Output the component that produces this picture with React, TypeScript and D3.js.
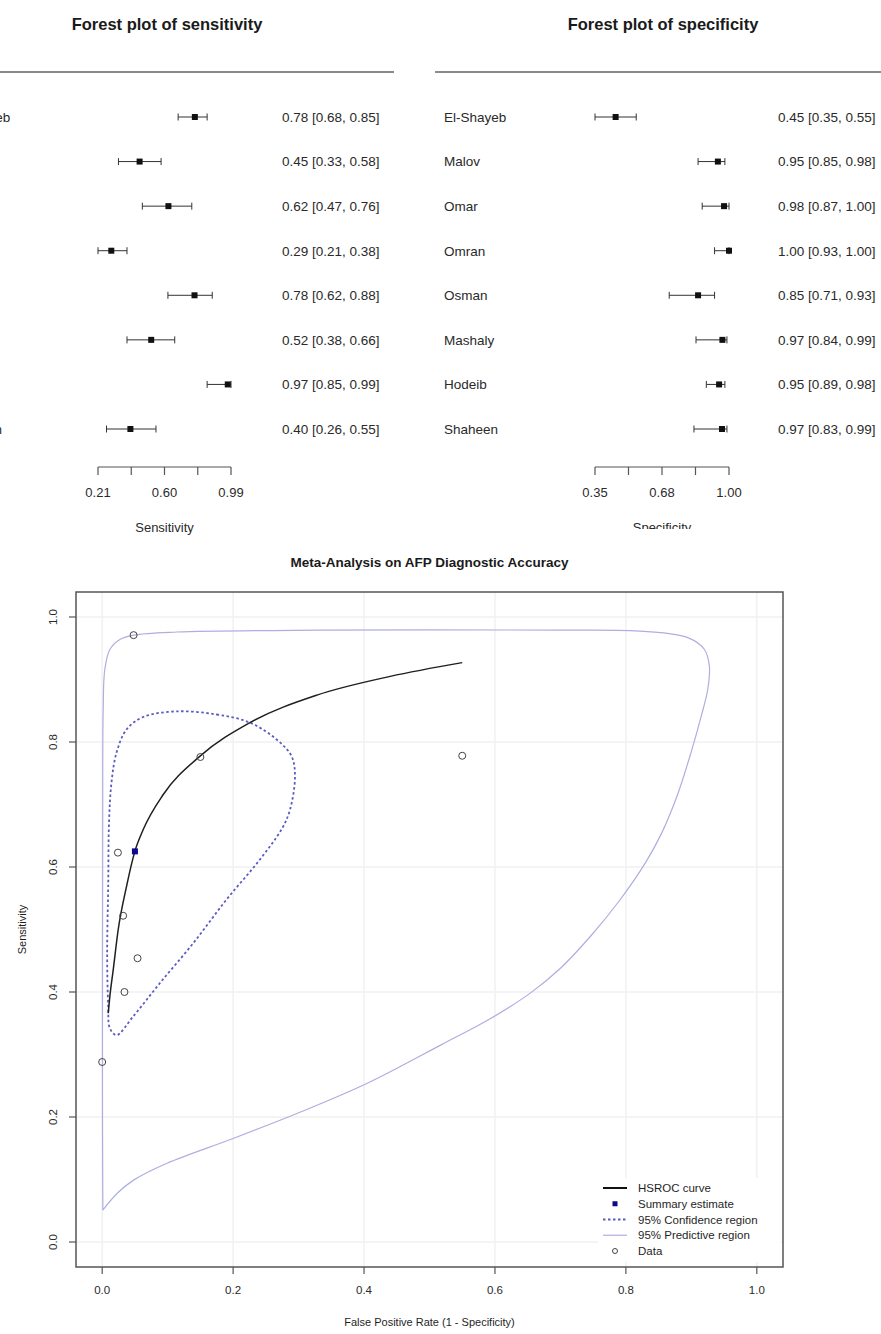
import React from "react";
import * as d3 from "d3";

// ---------- Data ----------
const studies = ["El-Shayeb", "Malov", "Omar", "Omran", "Osman", "Mashaly", "Hodeib", "Shaheen"];
const sensitivity = [0.778, 0.454, 0.623, 0.288, 0.776, 0.522, 0.971, 0.4];
const sensLower = [0.68, 0.33, 0.47, 0.21, 0.62, 0.38, 0.85, 0.26];
const sensUpper = [0.85, 0.58, 0.76, 0.38, 0.88, 0.66, 0.99, 0.55];
const specificity = [0.45, 0.946, 0.976, 1.0, 0.85, 0.968, 0.952, 0.966];
const specLower = [0.35, 0.85, 0.87, 0.93, 0.71, 0.84, 0.89, 0.83];
const specUpper = [0.55, 0.98, 1.0, 1.0, 0.93, 0.99, 0.98, 0.99];
const sensAxisDomain = [0.21, 0.99];
const specAxisDomain = [0.35, 1.0];
const sensTickLabels = ["0.21", "0.60", "0.99"];
const specTickLabels = ["0.35", "0.68", "1.00"];

const summaryEstimate = [0.05, 0.625]; // [FPR, sensitivity]
const hsrocCurve: [number, number][] = [
  [0.0092, 0.366], [0.0117, 0.393], [0.0168, 0.435], [0.0245, 0.5], [0.0372, 0.569],
  [0.0499, 0.625], [0.0627, 0.66], [0.0933, 0.716], [0.149, 0.777], [0.2257, 0.831],
  [0.328, 0.875], [0.44, 0.905], [0.55, 0.927],
];
const confidenceRegion: [number, number][] = [
  [0.1136, 0.849], [0.1748, 0.844], [0.2257, 0.831], [0.2665, 0.804], [0.2894, 0.777],
  [0.2945, 0.745], [0.287, 0.692], [0.275, 0.662], [0.241, 0.612], [0.19, 0.548],
  [0.139, 0.478], [0.088, 0.414], [0.0474, 0.361], [0.0219, 0.331], [0.0117, 0.342],
  [0.0092, 0.377], [0.0076, 0.462], [0.0092, 0.569], [0.0104, 0.67], [0.0142, 0.735],
  [0.0219, 0.783], [0.0372, 0.82], [0.0627, 0.84],
];
const predictiveRegion: [number, number][] = [
  [0.001, 0.051], [0.0005, 0.2], [0.0005, 0.45], [0.0008, 0.66], [0.0015, 0.85],
  [0.004, 0.916], [0.0117, 0.948], [0.027, 0.964], [0.048, 0.971], [0.114, 0.976],
  [0.33, 0.979], [0.7, 0.979], [0.828, 0.977], [0.8945, 0.967], [0.92, 0.948],
  [0.9275, 0.9215], [0.925, 0.884], [0.915, 0.841], [0.9, 0.785], [0.879, 0.716],
  [0.855, 0.655], [0.83, 0.607], [0.79, 0.546], [0.745, 0.488], [0.7, 0.438],
  [0.655, 0.399], [0.594, 0.358], [0.517, 0.315], [0.405, 0.254], [0.303, 0.208],
  [0.201, 0.166], [0.099, 0.126], [0.048, 0.099], [0.023, 0.078],
];
const sroTicks = [0, 0.2, 0.4, 0.6, 0.8, 1.0];
const legendItems = ["HSROC curve", "Summary estimate", "95% Confidence region", "95% Predictive region", "Data"];

const FONT = "'Liberation Sans', Arial, Helvetica, sans-serif";

type ForestProps = {
  title: string;
  axisTitle: string;
  values: number[];
  lower: number[];
  upper: number[];
  domain: number[];
  tickLabels: string[];
  axisRange: [number, number];
  ox: number;
  clipId?: string;
};

function Forest(p: ForestProps) {
  const x = d3.scaleLinear().domain(p.domain).range(p.axisRange);
  const row = d3.scaleLinear().domain([0, studies.length - 1]).range([117, 429]);
  const tickVals = d3.range(5).map((i) => p.domain[0] + (i * (p.domain[1] - p.domain[0])) / 4);
  const axisY = 467;
  const sq = 6;
  return (
    <g clipPath={p.clipId ? `url(#${p.clipId})` : undefined} fontFamily={FONT}>
      <text x={p.ox + 663} y={30} textAnchor="middle" fontSize={16.5} fontWeight="bold" fill="#1a1a1a">
        {p.title}
      </text>
      <line x1={p.ox + 435} x2={p.ox + 890} y1={72} y2={72} stroke="#8a8a8a" strokeWidth={2} />
      {studies.map((s, i) => {
        const y = row(i);
        const est = `${p.values[i].toFixed(2)} [${p.lower[i].toFixed(2)}, ${p.upper[i].toFixed(2)}]`;
        return (
          <g key={s}>
            <text x={p.ox + 444} y={y} dy="0.36em" fontSize={13.5} fill="#2a2a2a">{s}</text>
            <line x1={x(p.lower[i])} x2={x(p.upper[i])} y1={y} y2={y} stroke="#333" strokeWidth={1} />
            <line x1={x(p.lower[i])} x2={x(p.lower[i])} y1={y - 3.5} y2={y + 3.5} stroke="#333" strokeWidth={1} />
            <line x1={x(p.upper[i])} x2={x(p.upper[i])} y1={y - 3.5} y2={y + 3.5} stroke="#333" strokeWidth={1} />
            <rect x={x(p.values[i]) - sq / 2} y={y - sq / 2} width={sq} height={sq} fill="#111" />
            <text x={p.ox + 778} y={y} dy="0.36em" fontSize={13.5} fill="#2a2a2a">{est}</text>
          </g>
        );
      })}
      <line x1={p.axisRange[0]} x2={p.axisRange[1]} y1={axisY} y2={axisY} stroke="#555" strokeWidth={1.2} />
      {tickVals.map((t, i) => (
        <line key={i} x1={x(t)} x2={x(t)} y1={axisY} y2={axisY + 8} stroke="#555" strokeWidth={1.2} />
      ))}
      {p.tickLabels.map((lab, i) => (
        <text key={lab} x={x(tickVals[i * 2])} y={497} textAnchor="middle" fontSize={13} fill="#2a2a2a">
          {lab}
        </text>
      ))}
      <text x={(p.axisRange[0] + p.axisRange[1]) / 2} y={532} textAnchor="middle" fontSize={13} fill="#2a2a2a">
        {p.axisTitle}
      </text>
    </g>
  );
}

function SROC() {
  const left = 76, right = 783, top = 592, bottom = 1267;
  const x = d3.scaleLinear().domain([-0.04, 1.04]).range([left, right]);
  const y = d3.scaleLinear().domain([-0.04, 1.04]).range([bottom, top]);
  const open = d3.line<[number, number]>().x((d) => x(d[0])).y((d) => y(d[1])).curve(d3.curveMonotoneX);
  const closed = d3.line<[number, number]>().x((d) => x(d[0])).y((d) => y(d[1])).curve(d3.curveCatmullRomClosed.alpha(0.5));
  const cornered = d3.line<[number, number]>().x((d) => x(d[0])).y((d) => y(d[1])).curve(d3.curveCatmullRom.alpha(0.5));
  const fpr = specificity.map((s) => 1 - s);
  const lx1 = 603, lx2 = 627, ltx = 638;
  const ly = d3.scaleLinear().domain([0, 4]).range([1188, 1251]);
  const confColor = "#5b5bc4";
  const predColor = "#aeaee0";
  return (
    <g fontFamily={FONT}>
      <text x={(left + right) / 2} y={567} textAnchor="middle" fontSize={13.5} fontWeight="bold" fill="#1a1a1a">
        Meta-Analysis on AFP Diagnostic Accuracy
      </text>
      {/* grid */}
      {sroTicks.map((t) => (
        <g key={"g" + t}>
          <line x1={x(t)} x2={x(t)} y1={top} y2={bottom} stroke="#f1f1f1" strokeWidth={1.5} />
          <line x1={left} x2={right} y1={y(t)} y2={y(t)} stroke="#f1f1f1" strokeWidth={1.5} />
        </g>
      ))}
      <path
        d={cornered([...predictiveRegion, predictiveRegion[0]]) || ""}
        fill="none"
        stroke={predColor}
        strokeWidth={1.2}
      />
      <path d={closed(confidenceRegion) || ""} fill="none" stroke={confColor} strokeWidth={1.8} strokeDasharray="2.5,2.5" />
      <path d={open(hsrocCurve) || ""} fill="none" stroke="#1f1f1f" strokeWidth={1.5} />
      {fpr.map((f, i) => (
        <circle key={studies[i]} cx={x(f)} cy={y(sensitivity[i])} r={3.5} fill="none" stroke="#444" strokeWidth={1} />
      ))}
      <rect x={x(summaryEstimate[0]) - 3} y={y(summaryEstimate[1]) - 3} width={6} height={6} fill="#0a0a8a" />
      {/* legend */}
      <rect x={598} y={1178} width={183} height={84} fill="#fff" />
      <line x1={lx1} x2={lx2} y1={ly(0)} y2={ly(0)} stroke="#111" strokeWidth={2} />
      <rect x={(lx1 + lx2) / 2 - 2.5} y={ly(1) - 2.5} width={5} height={5} fill="#0a0a8a" />
      <line x1={lx1} x2={lx2} y1={ly(2)} y2={ly(2)} stroke={confColor} strokeWidth={1.8} strokeDasharray="2.5,2.5" />
      <line x1={lx1} x2={lx2} y1={ly(3)} y2={ly(3)} stroke={predColor} strokeWidth={1.2} />
      <circle cx={(lx1 + lx2) / 2} cy={ly(4)} r={2.5} fill="none" stroke="#444" strokeWidth={1} />
      {legendItems.map((t, i) => (
        <text key={t} x={ltx} y={ly(i)} dy="0.36em" fontSize={11.5} fill="#1f1f1f">{t}</text>
      ))}
      {/* box */}
      <rect x={left} y={top} width={right - left} height={bottom - top} fill="none" stroke="#555" strokeWidth={1.5} />
      {/* x axis */}
      {sroTicks.map((t) => (
        <g key={"x" + t}>
          <line x1={x(t)} x2={x(t)} y1={bottom} y2={bottom + 7} stroke="#555" strokeWidth={1.2} />
          <text x={x(t)} y={1294} textAnchor="middle" fontSize={11.5} fill="#2a2a2a">{t.toFixed(1)}</text>
        </g>
      ))}
      {sroTicks.map((t) => (
        <g key={"y" + t}>
          <line x1={left} x2={left - 7} y1={y(t)} y2={y(t)} stroke="#555" strokeWidth={1.2} />
          <text transform={`translate(57,${y(t)}) rotate(-90)`} textAnchor="middle" fontSize={11.5} fill="#2a2a2a">
            {t.toFixed(1)}
          </text>
        </g>
      ))}
      <text x={(left + right) / 2} y={1326} textAnchor="middle" fontSize={11} fill="#1f1f1f">
        False Positive Rate (1 - Specificity)
      </text>
      <text transform={`translate(26,${(top + bottom) / 2}) rotate(-90)`} textAnchor="middle" fontSize={11} fill="#1f1f1f">
        Sensitivity
      </text>
    </g>
  );
}

export default function App() {
  return (
    <svg
      width={881}
      height={1334}
      viewBox="0 0 881 1334"
      style={{ position: "absolute", left: 0, top: 0, display: "block", background: "#fff" }}
    >
      <defs>
        <clipPath id="clipRight">
          <rect x={420} y={0} width={461} height={529} />
        </clipPath>
      </defs>
      <rect x={0} y={0} width={881} height={1334} fill="#fff" />
      <Forest
        title="Forest plot of sensitivity"
        axisTitle="Sensitivity"
        values={sensitivity}
        lower={sensLower}
        upper={sensUpper}
        domain={sensAxisDomain}
        tickLabels={sensTickLabels}
        axisRange={[98, 231]}
        ox={-496}
      />
      <Forest
        title="Forest plot of specificity"
        axisTitle="Specificity"
        values={specificity}
        lower={specLower}
        upper={specUpper}
        domain={specAxisDomain}
        tickLabels={specTickLabels}
        axisRange={[595, 729]}
        ox={0}
        clipId="clipRight"
      />
      <SROC />
    </svg>
  );
}
